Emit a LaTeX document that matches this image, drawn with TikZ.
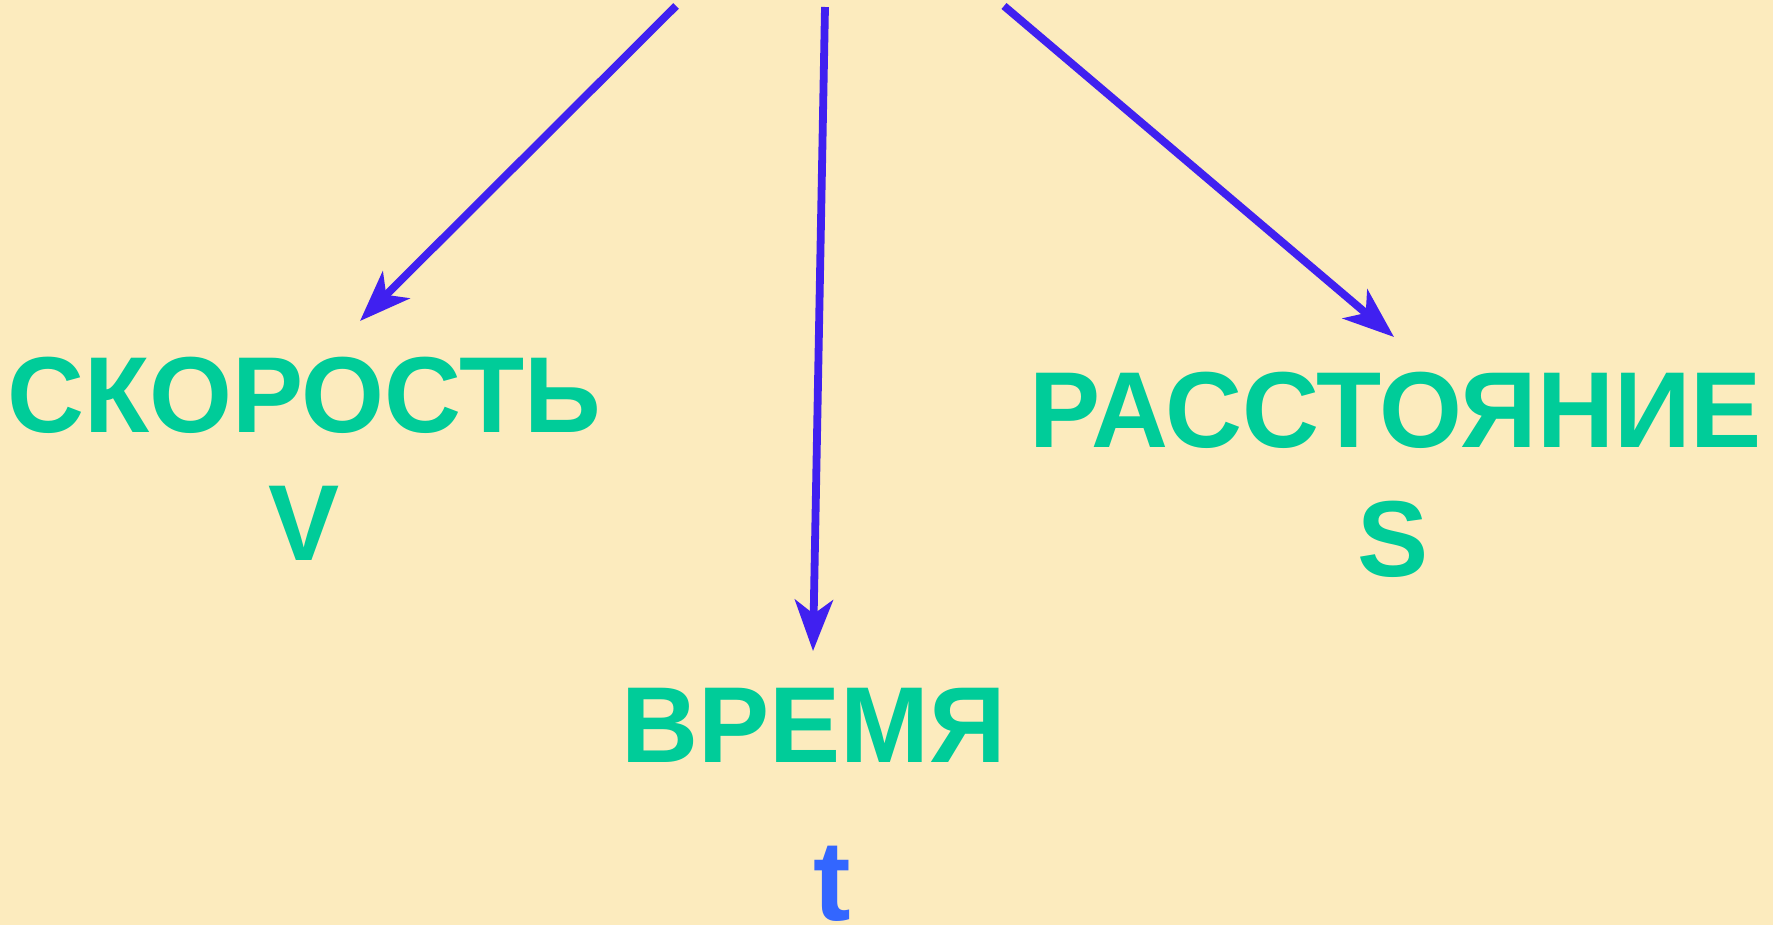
\documentclass[tikz,border=0pt]{standalone}
\usepackage{fontspec}
\setmainfont[FakeStretch=0.987]{Liberation Sans}
\usetikzlibrary{arrows.meta}
\definecolor{bg}{RGB}{252,235,190}
\definecolor{txtgreen}{RGB}{0,204,153}
\definecolor{arrowblue}{RGB}{64,32,240}
\definecolor{tblue}{RGB}{51,102,255}
\begin{document}
\begin{tikzpicture}[x=0.5pt,y=-0.5pt,
  lbl/.style={text=txtgreen,font=\bfseries\fontsize{54pt}{60pt}\selectfont,inner sep=0pt,anchor=base},
  arr/.style={draw=arrowblue,line width=3.9pt,-{Stealth[length=25.5pt,width=19pt,inset=7pt]}}]
\fill[bg] (0,0) rectangle (1773,925);
\useasboundingbox (0,0) rectangle (1773,925);
% labels
\node[lbl] (skor) at (304,432) {СКОРОСТЬ};
\node[lbl] (v) at (304,560.5) {V};
\node[lbl] (rass) at (1395.5,447.5) {РАССТОЯНИЕ};
\node[lbl] (s) at (1393.5,576) {S};
\node[lbl] (vrem) at (813.5,762.3) {ВРЕМЯ};
\node[lbl,text=tblue,font=\bfseries\fontsize{57pt}{62pt}\selectfont] (t) at (832.5,920) {t};
% arrow ends
\coordinate (a1s) at (676,6);
\coordinate (a2s) at (825,7);
\coordinate (a3s) at (1004,6);
\coordinate (a1e) at (360,321);
\coordinate (a2e) at (813,651);
\coordinate (a3e) at (1394,337);
\draw[arr] (a1s) -- (a1e);
\draw[arr] (a2s) -- (a2e);
\draw[arr] (a3s) -- (a3e);
\end{tikzpicture}
\end{document}
